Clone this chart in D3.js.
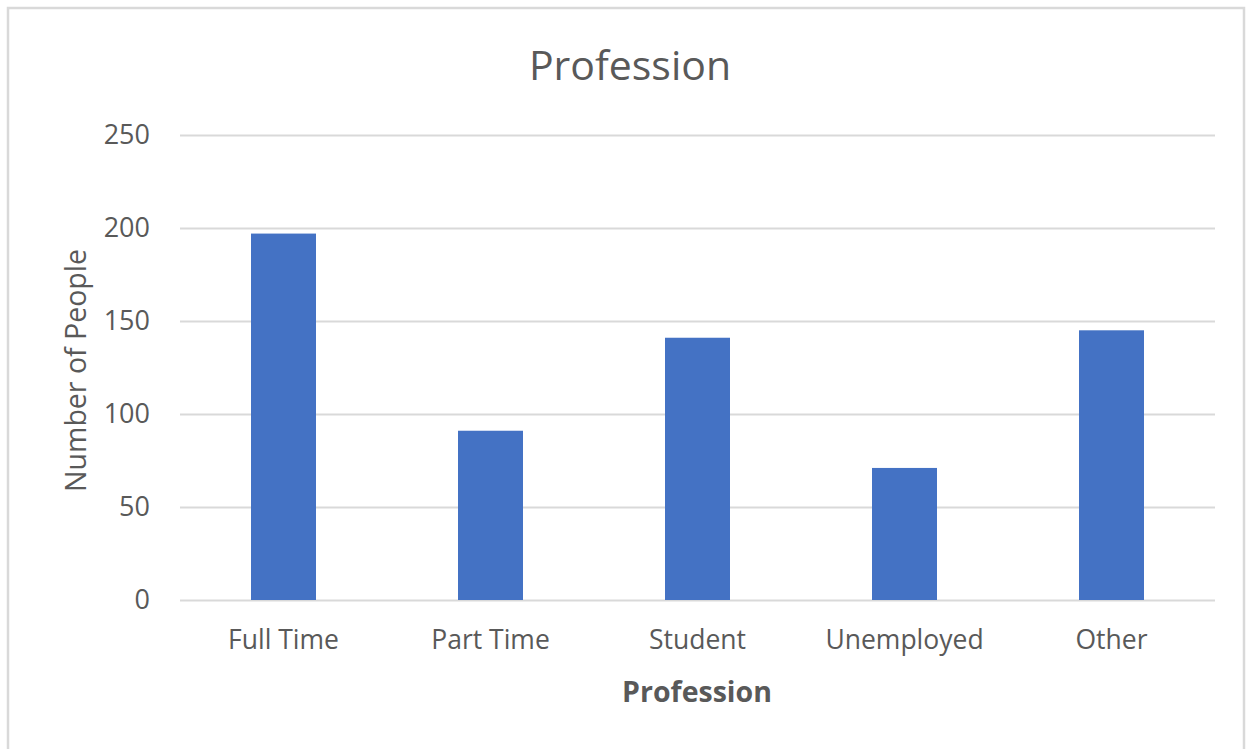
<!DOCTYPE html>
<html>
<head>
<meta charset="utf-8">
<script src="https://cdn.jsdelivr.net/npm/d3@7"></script>
<style>
  body { margin: 0; background: #fff; }
  text { font-family: "Open Sans", sans-serif; fill: #595959; }
</style>
</head>
<body>
<div id="vis"></div>
<script>
var categories = ["Full Time", "Part Time", "Student", "Unemployed", "Other"];
var people = [197, 91, 141, 71, 145];
var yTicks = [0, 50, 100, 150, 200, 250];

var outer_width = 1249;
var outer_height = 749;
var margin = {top: 135, right: 34, bottom: 149, left: 180};
var plot_width = outer_width - margin.left - margin.right;
var plot_height = outer_height - margin.top - margin.bottom;

var svg = d3.select("#vis")
  .append("svg")
  .attr("width", outer_width)
  .attr("height", outer_height);

// chart border
svg.append("rect")
  .attr("x", 8)
  .attr("y", 8)
  .attr("width", 1236)
  .attr("height", 750)
  .style("fill", "#fff")
  .style("stroke", "#d9d9d9")
  .style("stroke-width", 2.5);

var g = svg.append("g")
  .attr("transform", "translate(" + margin.left + "," + margin.top + ")");

var xScale = d3.scaleBand()
  .domain(categories)
  .range([0, plot_width])
  .paddingInner(0.686)
  .paddingOuter(0.343);

var yScale = d3.scaleLinear()
  .domain([0, 250])
  .range([plot_height, 0]);

// gridlines
g.append("g")
  .call(d3.axisLeft(yScale).tickValues(yTicks).tickSize(-plot_width).tickFormat(""))
  .call(function(a){ a.select(".domain").remove(); })
  .selectAll("line")
  .style("stroke", "#d9d9d9")
  .style("stroke-width", 2);

// y tick labels
g.append("g")
  .call(d3.axisLeft(yScale).tickValues(yTicks).tickSize(0).tickPadding(30))
  .call(function(a){ a.select(".domain").remove(); })
  .selectAll("text")
  .style("font-size", "27px")
  .style("fill", "#595959");

// bars
g.selectAll(".bar")
  .data(people)
  .enter()
  .append("rect")
  .attr("class", "bar")
  .attr("x", function(d, i){ return xScale(categories[i]); })
  .attr("y", function(d){ return yScale(d); })
  .attr("width", xScale.bandwidth())
  .attr("height", function(d){ return plot_height - yScale(d); })
  .style("fill", "#4472c4");

// x axis
g.append("g")
  .attr("transform", "translate(0," + plot_height + ")")
  .call(d3.axisBottom(xScale).tickSize(0).tickPadding(30))
  .call(function(a){ a.select(".domain").remove(); })
  .selectAll("text")
  .style("font-size", "26.5px")
  .style("fill", "#595959");

// title
svg.append("text")
  .attr("x", 630)
  .attr("y", 80)
  .style("text-anchor", "middle")
  .style("font-size", "41px")
  .text("Profession");

// x title
svg.append("text")
  .attr("x", 697)
  .attr("y", 702)
  .style("text-anchor", "middle")
  .style("font-size", "28.5px")
  .style("font-weight", "bold")
  .text("Profession");

// y title
svg.append("text")
  .attr("transform", "translate(86," + (margin.top + plot_height / 2 + 3) + ") rotate(-90)")
  .style("text-anchor", "middle")
  .style("font-size", "28.5px")
  .text("Number of People");
</script>
</body>
</html>
